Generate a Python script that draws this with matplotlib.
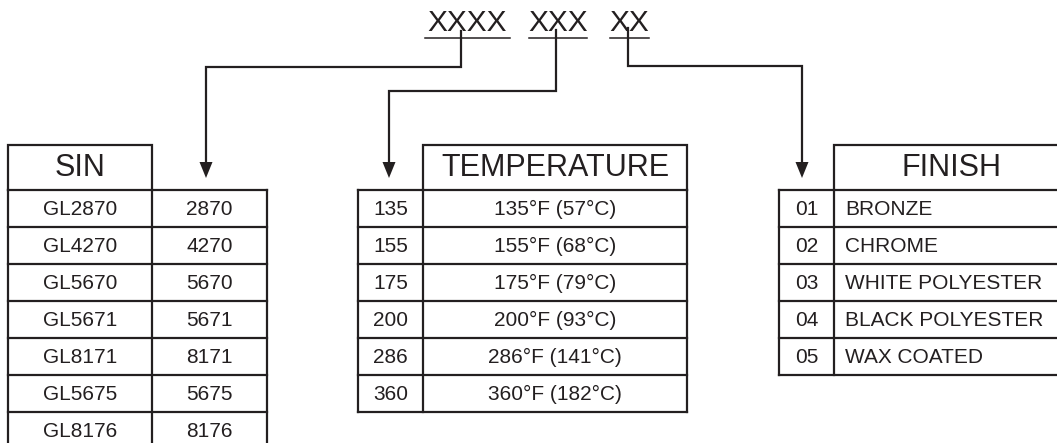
import matplotlib.pyplot as plt
from matplotlib.patches import Polygon

plt.rcParams['font.family'] = ['Liberation Sans', 'DejaVu Sans']

INK = '#231f20'
LW = 1.6

# table contents
sin_header = 'SIN'
sin_models = ['GL2870', 'GL4270', 'GL5670', 'GL5671', 'GL8171', 'GL5675', 'GL8176']
sin_codes = ['2870', '4270', '5670', '5671', '8171', '5675', '8176']

temp_header = 'TEMPERATURE'
temp_codes = ['135', '155', '175', '200', '286', '360']
temp_labels = ['135°F (57°C)', '155°F (68°C)', '175°F (79°C)',
               '200°F (93°C)', '286°F (141°C)', '360°F (182°C)']

finish_header = 'FINISH'
finish_codes = ['01', '02', '03', '04', '05']
finish_labels = ['BRONZE', 'CHROME', 'WHITE POLYESTER', 'BLACK POLYESTER', 'WAX COATED']

code_groups = ['XXXX', 'XXX', 'XX']

# layout (pixels, y grows downward)
ROW_TOP = 190
ROW_H = 37
HEAD_TOP = 144.5


def line(ax, xs, ys):
    ax.plot(xs, ys, color=INK, lw=LW, solid_capstyle='projecting',
            solid_joinstyle='miter')


def draw_table(ax, cols, header_cols, header, left_col, right_col,
               head_x=None, right_align='center', right_pad=0):
    n = len(left_col)
    bottom = ROW_TOP + n * ROW_H
    # header box
    hx0, hx1 = header_cols
    line(ax, [hx0, hx0, hx1, hx1], [ROW_TOP, HEAD_TOP, HEAD_TOP, ROW_TOP])
    ax.text(head_x if head_x else (hx0 + hx1) / 2, (HEAD_TOP + ROW_TOP) / 2 + 1,
            header, fontsize=22, ha='center', va='center', color=INK)
    # row lines
    for i in range(n + 1):
        y = ROW_TOP + i * ROW_H
        line(ax, [cols[0], cols[-1]], [y, y])
    for x in cols:
        line(ax, [x, x], [ROW_TOP, bottom])
    for i in range(n):
        yc = ROW_TOP + (i + 0.5) * ROW_H + 1
        ax.text((cols[0] + cols[1]) / 2, yc, left_col[i], fontsize=15,
                ha='center', va='center', color=INK)
        if right_align == 'center':
            ax.text((cols[1] + cols[2]) / 2, yc, right_col[i], fontsize=15,
                    ha='center', va='center', color=INK)
        else:
            ax.text(cols[1] + right_pad, yc, right_col[i], fontsize=15,
                    ha='left', va='center', color=INK)


def arrow_down(ax, x, y_tip):
    head = Polygon([[x - 6.5, y_tip - 16], [x + 6.5, y_tip - 16], [x, y_tip]],
                   closed=True, color=INK, lw=0)
    ax.add_patch(head)


fig = plt.figure(figsize=(10.57, 4.43), dpi=100)
ax = fig.add_axes([0, 0, 1, 1])
ax.set_xlim(0, 1057)
ax.set_ylim(443, 0)
ax.axis('off')

# code string with underlines
group_spans = [(425, 510), (529, 587), (610, 649)]
for g, (x0, x1) in zip(code_groups, group_spans):
    ax.text((x0 + x1) / 2, 23, g, fontsize=21.5, ha='center', va='center',
            color=INK)
    ax.plot([x0, x1], [38, 38], color=INK, lw=1.1)

# connectors
tip_y = 178
line(ax, [461, 461, 206, 206], [31, 67, 67, tip_y - 15])
arrow_down(ax, 206, tip_y)
line(ax, [556, 556, 389, 389], [30, 91, 91, tip_y - 15])
arrow_down(ax, 389, tip_y)
line(ax, [628, 628, 802, 802], [28, 66, 66, tip_y - 15])
arrow_down(ax, 802, tip_y)

# tables
draw_table(ax, [8, 152, 267], (8, 152), sin_header, sin_models, sin_codes)
draw_table(ax, [358, 423, 687], (423, 687), temp_header, temp_codes, temp_labels)
draw_table(ax, [779, 834, 1075], (834, 1075), finish_header, finish_codes,
           finish_labels, head_x=952, right_align='left', right_pad=11)

fig.savefig('out.png', dpi=100)
